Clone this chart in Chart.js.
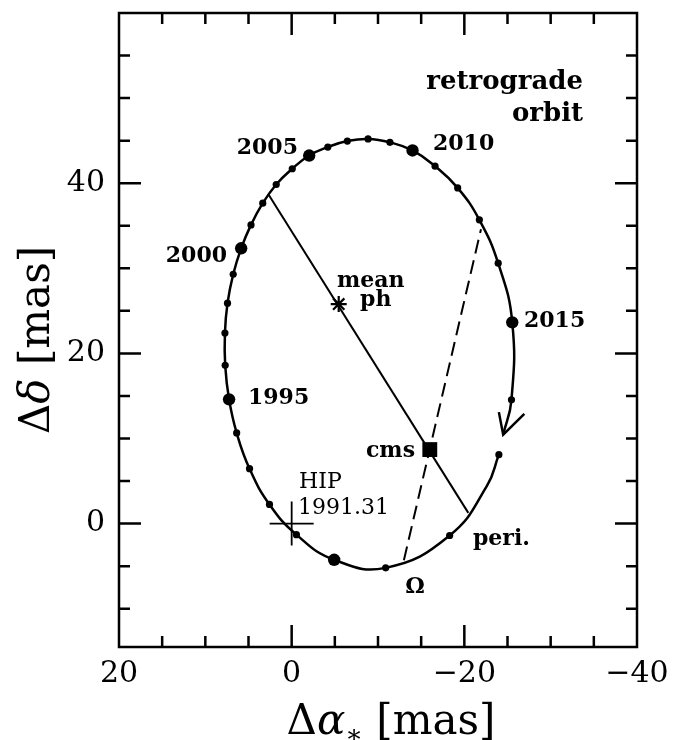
<!DOCTYPE html>
<html><head><meta charset="utf-8">
<script src="https://cdn.jsdelivr.net/npm/chart.js@4.4.1/dist/chart.umd.min.js"></script>
<style>html,body{margin:0;padding:0;background:#fff}canvas{display:block}</style>
</head><body>
<canvas id="c" width="682" height="740"></canvas>
<script>
// ---- data (mas) ----
const years  = [1987,1988,1989,1990,1991,1992,1993,1994,1995,1996,1997,1998,1999,2000,2001,2002,2003,2004,2005,2006,2007,2008,2009,2010,2011,2012,2013,2014,2015,2016];
const dAlpha = [-24.0,-18.3,-10.89,-4.92,-0.55,2.57,4.88,6.37,7.25,7.7,7.73,7.43,6.77,5.85,4.71,3.35,1.79,-0.07,-2.03,-4.19,-6.45,-8.85,-11.38,-14.0,-16.61,-19.23,-21.74,-23.92,-25.55,-25.46];
const dDelta = [8.1,-1.4,-5.2,-4.25,-1.3,2.25,6.45,10.65,14.6,18.6,22.4,25.9,29.3,32.35,35.1,37.65,39.85,41.7,43.25,44.25,44.95,45.2,44.8,43.85,42.0,39.45,35.7,30.6,23.65,14.55];
const markedYears = [1990,1995,2000,2005,2010,2015];
const arcPoint   = [-22.6, 4.4];    // orbit trace between 1987 and 1988 (near periastron)
const periPoint  = [-20.46, 1.26];
const nodePoint  = [-13.0, -4.3];
const nodeTop    = [-21.93, 34.6];
const apsideTop  = [2.7, 38.7];
const arrowTip   = [-24.5, 10.45];
const arrowLeft  = [-24.0, 13.1];
const arrowRight = [-26.95, 12.9];
const cmsPoint   = [-16.0, 8.7];
const meanPhPoint= [-5.45, 25.8];
const hipPoint   = [0, 0];
const xTickValues = [20, 0, -20, -40];
const xTickLabels = ['20', '0', '\u221220', '\u221240'];
const yTickValues = [0, 20, 40];
const yTickLabels = ['0', '20', '40'];

// ---- build datasets ----
const pt = (a) => ({x: a[0], y: a[1]});
const yearPts = years.map((yr, i) => ({x: dAlpha[i], y: dDelta[i]}));
const smallPts = yearPts.filter((p, i) => !markedYears.includes(years[i]));
const bigPts = yearPts.filter((p, i) => markedYears.includes(years[i]));
const curve = [yearPts[0], pt(arcPoint)].concat(yearPts.slice(1), [pt(arrowTip)]);

const annotations = [
  {t:'retrograde', x:-33.75, y:51.06, align:'right', f:'bold 26px "DejaVu Serif"'},
  {t:'orbit',      x:-33.75, y:47.3,  align:'right', f:'bold 26px "DejaVu Serif"'},
  {t:'2005', x:-0.73,  y:43.41, align:'right', f:'bold 22px "DejaVu Serif"'},
  {t:'2010', x:-16.37, y:43.88, align:'left',  f:'bold 22px "DejaVu Serif"'},
  {t:'2015', x:-26.91, y:23.06, align:'left',  f:'bold 22px "DejaVu Serif"'},
  {t:'2000', x:7.49,   y:30.7,  align:'right', f:'bold 22px "DejaVu Serif"'},
  {t:'1995', x:5.06,   y:14.0,  align:'left',  f:'bold 22px "DejaVu Serif"'},
  {t:'mean', x:-5.25,  y:27.76, align:'left',  f:'bold 22px "DejaVu Serif"'},
  {t:'ph',   x:-7.92,  y:25.53, align:'left',  f:'bold 22px "DejaVu Serif"'},
  {t:'HIP',  x:-0.85,  y:4.24,  align:'left',  f:'22px "DejaVu Serif"'},
  {t:'1991.31', x:-0.73, y:1.18, align:'left', f:'22px "DejaVu Serif"'},
  {t:'cms',  x:-14.29, y:7.88,  align:'right', f:'bold 22px "DejaVu Serif"'},
  {t:'peri.',x:-21.0,  y:-2.47, align:'left',  f:'bold 22px "DejaVu Serif"'},
  {t:'\u03A9', x:-14.29, y:-8.12, align:'center', f:'bold 22px "DejaVu Serif"'}
];

const framePlugin = {
  id: 'frameTicks',
  afterDraw(chart) {
    const ctx = chart.ctx, a = chart.chartArea;
    const xs = chart.scales.x, ys = chart.scales.y;
    ctx.save();
    ctx.strokeStyle = '#000';
    ctx.lineWidth = 2.5;
    ctx.lineCap = 'butt';
    ctx.beginPath();
    xs.ticks.forEach(t => {
      const v = Math.round(t.value * 1000) / 1000;
      if (v === xs.min || v === xs.max || v % 5 !== 0) return;
      const p = xs.getPixelForValue(v);
      const len = xTickValues.includes(v) ? 22 : 11;
      ctx.moveTo(p, a.bottom); ctx.lineTo(p, a.bottom - len);
      ctx.moveTo(p, a.top); ctx.lineTo(p, a.top + len);
    });
    ys.ticks.forEach(t => {
      const v = Math.round(t.value * 1000) / 1000;
      if (v === ys.min || v === ys.max || v % 5 !== 0) return;
      const p = ys.getPixelForValue(v);
      const len = yTickValues.includes(v) ? 22 : 11;
      ctx.moveTo(a.left, p); ctx.lineTo(a.left + len, p);
      ctx.moveTo(a.right, p); ctx.lineTo(a.right - len, p);
    });
    ctx.stroke();
    ctx.strokeRect(a.left, a.top, a.right - a.left, a.bottom - a.top);

    // annotations
    ctx.fillStyle = '#000';
    ctx.textBaseline = 'alphabetic';
    annotations.forEach(n => {
      ctx.font = n.f;
      ctx.textAlign = n.align;
      ctx.fillText(n.t, xs.getPixelForValue(n.x), ys.getPixelForValue(n.y));
    });

    // axis titles with mixed styles
    const drawPieces = (pieces, cx, baseY) => {
      let w = 0;
      pieces.forEach(p => { ctx.font = p.f; w += ctx.measureText(p.t).width; });
      let x = cx - w / 2;
      ctx.textAlign = 'left';
      pieces.forEach(p => {
        ctx.font = p.f;
        ctx.fillText(p.t, x, baseY + (p.dy || 0));
        x += ctx.measureText(p.t).width;
      });
    };
    const F = '42px "DejaVu Serif"', FI = 'italic 42px "DejaVu Serif"';
    drawPieces([{t:'\u0394', f:F}, {t:'\u03B1', f:FI}, {t:'\u2217', f:'26px "DejaVu Serif"', dy:9}, {t:' [mas]', f:F}],
      (a.left + a.right) / 2 + 13, chart.height - 6);
    ctx.save();
    ctx.translate(49, (a.top + a.bottom) / 2 + 10);
    ctx.rotate(-Math.PI / 2);
    drawPieces([{t:'\u0394', f:F}, {t:'\u03B4', f:FI}, {t:' [mas]', f:F}], 0, 0);
    ctx.restore();
    ctx.restore();
  }
};

const tickFont = {family: 'DejaVu Serif', size: 30, lineHeight: 1.2};

new Chart(document.getElementById('c'), {
  type: 'scatter',
  data: {
    datasets: [
      {label:'orbit', data: curve, showLine: true, tension: 0.45, borderColor:'#000', borderWidth:2.5, pointRadius:0, fill:false},
      {label:'yearly', data: smallPts, pointRadius:3.6, backgroundColor:'#000', borderColor:'#000', borderWidth:0},
      {label:'5-yearly', data: bigPts, pointRadius:6.2, backgroundColor:'#000', borderColor:'#000', borderWidth:0},
      {label:'apsides', data:[pt(apsideTop), pt(periPoint)], showLine:true, borderColor:'#000', borderWidth:2, pointRadius:0},
      {label:'nodes', data:[pt(nodePoint), pt(nodeTop)], showLine:true, borderColor:'#000', borderWidth:2, borderDash:[14,7], pointRadius:0},
      {label:'arrow', data:[pt(arrowLeft), pt(arrowTip), pt(arrowRight)], showLine:true, borderColor:'#000', borderWidth:2.5, pointRadius:0, tension:0},
      {label:'mean ph', data:[pt(meanPhPoint)], pointStyle:'star', pointRadius:8, borderColor:'#000', borderWidth:2.2},
      {label:'cms', data:[pt(cmsPoint)], pointStyle:'rect', pointRadius:10.5, backgroundColor:'#000', borderColor:'#000', borderWidth:0},
      {label:'HIP', data:[pt(hipPoint)], pointStyle:'cross', pointRadius:22, borderColor:'#000', borderWidth:1.8}
    ]
  },
  options: {
    responsive: false,
    animation: false,
    devicePixelRatio: 1,
    layout: {autoPadding: false, padding: {left: 0, top: 13, right: 45, bottom: 0}},
    plugins: {legend: {display: false}, tooltip: {enabled: false}},
    elements: {point: {hoverRadius: 0}},
    scales: {
      x: {
        type: 'linear', min: -40, max: 20, reverse: true,
        afterFit(s) { s.height = 93; s.paddingLeft = 0; s.paddingRight = 0; },
        grid: {display: false, drawTicks: false},
        border: {display: false},
        title: {display: false},
        ticks: {
          stepSize: 5, autoSkip: false, padding: 9, maxRotation: 0, minRotation: 0,
          color: '#000', font: tickFont,
          callback(v) { const i = xTickValues.indexOf(Math.round(v)); return (i < 0 || Math.round(v) !== v) ? '' : xTickLabels[i]; }
        }
      },
      y: {
        type: 'linear', min: -14.5, max: 60,
        afterFit(s) { s.width = 119; s.paddingTop = 0; s.paddingBottom = 0; },
        grid: {display: false, drawTicks: false},
        border: {display: false},
        title: {display: false},
        ticks: {
          stepSize: 5, autoSkip: false, padding: 14,
          color: '#000', font: tickFont,
          callback(v) { const i = yTickValues.indexOf(v); return i < 0 ? '' : yTickLabels[i]; }
        }
      }
    }
  },
  plugins: [framePlugin]
});
</script>
</body></html>
